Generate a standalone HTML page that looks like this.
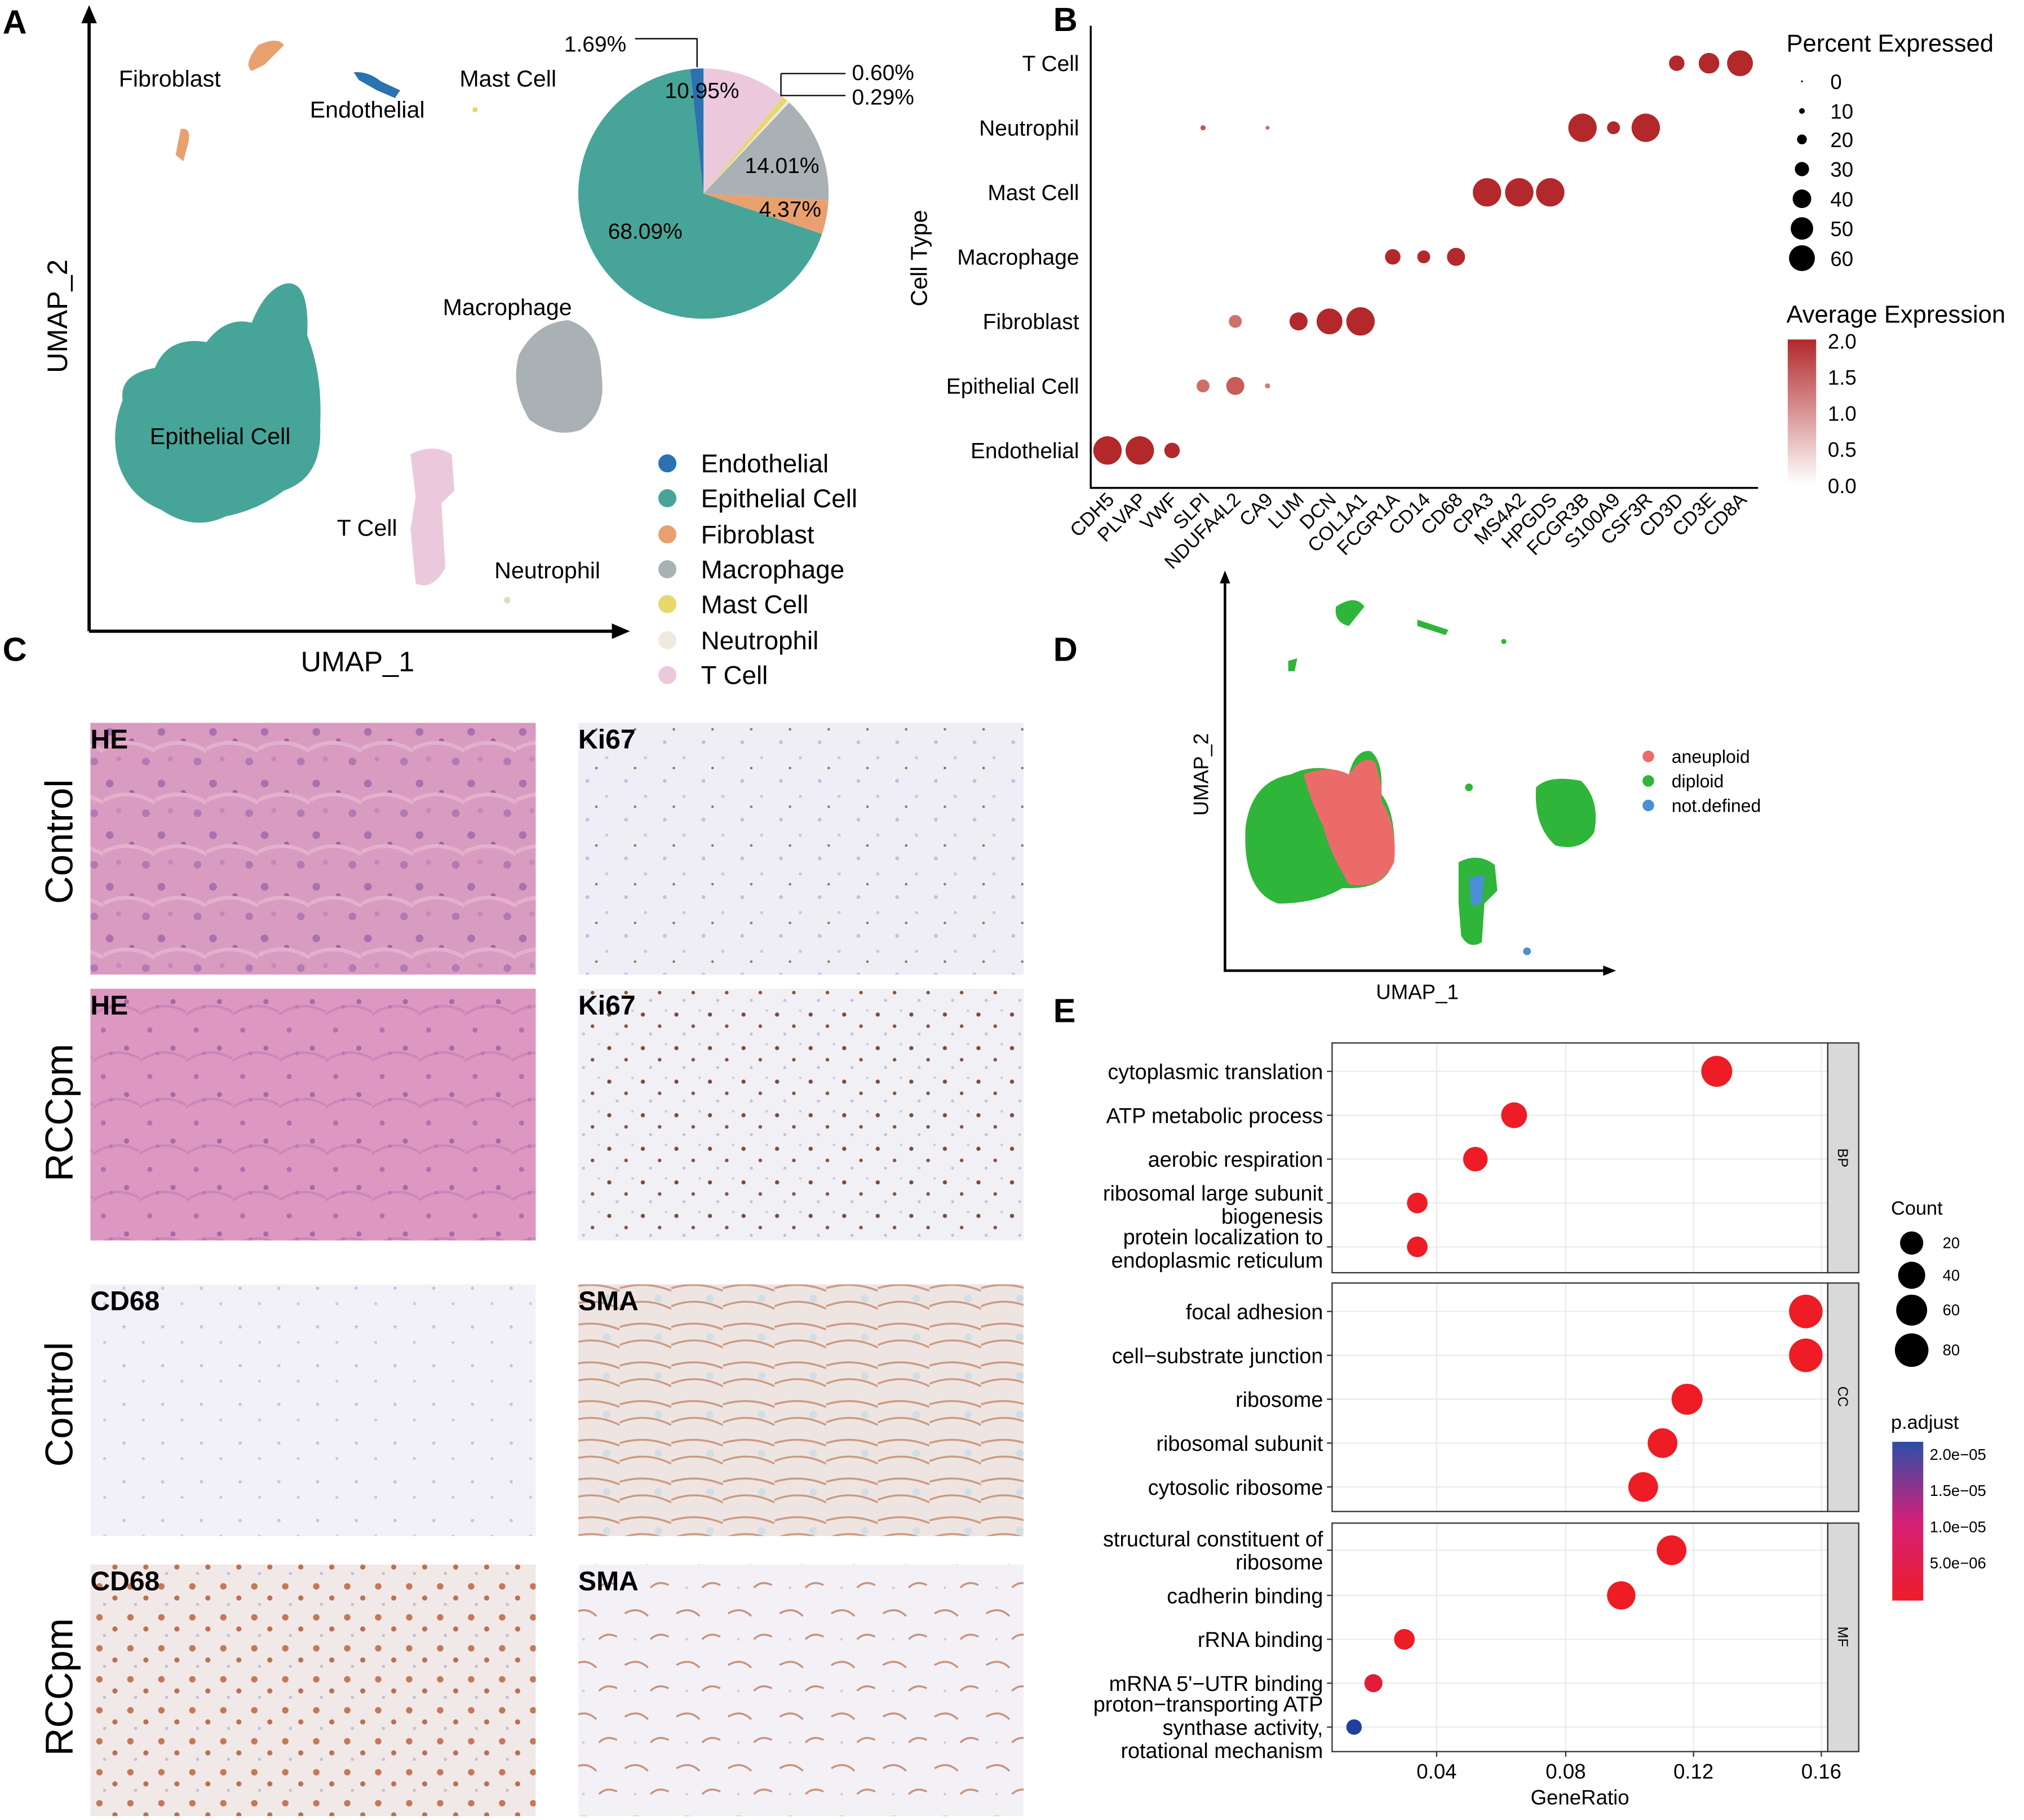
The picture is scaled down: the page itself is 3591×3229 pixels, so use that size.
<!DOCTYPE html>
<html><head><meta charset="utf-8"><style>html,body{margin:0;padding:0;background:#fff}svg{display:block}text{font-family:"Liberation Sans",Arial,sans-serif}</style></head><body>
<svg width="3591" height="3229" viewBox="0 0 1568 1410" xmlns="http://www.w3.org/2000/svg">
<defs>
<pattern id="he" width="40" height="40" patternUnits="userSpaceOnUse"><rect width="40" height="40" fill="#d99bc0"/><circle cx="5" cy="7" r="3" fill="#a872b0"/><circle cx="22" cy="14" r="2" fill="#9a66a6"/><circle cx="33" cy="30" r="3" fill="#b07ab4"/><circle cx="12" cy="28" r="2" fill="#c08abd"/><path d="M0 20 Q20 10 40 22" stroke="#e4b0cc" stroke-width="3" fill="none"/></pattern>
<pattern id="he2" width="36" height="36" patternUnits="userSpaceOnUse"><rect width="36" height="36" fill="#dd98c2"/><circle cx="8" cy="6" r="2" fill="#b072ae"/><circle cx="26" cy="20" r="2" fill="#a66aa6"/><path d="M0 30 Q18 18 36 28" stroke="#cc88b8" stroke-width="2" fill="none"/><circle cx="14" cy="24" r="1.5" fill="#b87ab4"/></pattern>
<pattern id="ki" width="30" height="30" patternUnits="userSpaceOnUse"><rect width="30" height="30" fill="#efeef5"/><circle cx="5" cy="5" r="1.5" fill="#c4c1df"/><circle cx="20" cy="17" r="1.3" fill="#ccc9e3"/><circle cx="12" cy="25" r="1" fill="#9a7058"/></pattern>
<pattern id="ki2" width="26" height="26" patternUnits="userSpaceOnUse"><rect width="26" height="26" fill="#f1f0f5"/><circle cx="4" cy="6" r="1.6" fill="#7a4c36"/><circle cx="17" cy="15" r="1.4" fill="#85553c"/><circle cx="10" cy="21" r="1.2" fill="#c4c0dd"/><circle cx="22" cy="3" r="1" fill="#ccc8e2"/></pattern>
<pattern id="cd" width="30" height="30" patternUnits="userSpaceOnUse"><rect width="30" height="30" fill="#f2f1f7"/><circle cx="6" cy="8" r="1.3" fill="#c6c4df"/><circle cx="21" cy="20" r="1.2" fill="#ccc9e2"/></pattern>
<pattern id="cd2" width="24" height="24" patternUnits="userSpaceOnUse"><rect width="24" height="24" fill="#f1e9e8"/><circle cx="5" cy="5" r="2.5" fill="#c47858"/><circle cx="17" cy="14" r="2" fill="#bc7050"/><circle cx="9" cy="19" r="1.3" fill="#c4c0dc"/></pattern>
<pattern id="sma" width="40" height="30" patternUnits="userSpaceOnUse"><rect width="40" height="30" fill="#eee5e2"/><path d="M0 8 Q20 2 40 10 M0 22 Q20 14 40 24" stroke="#cc9a80" stroke-width="1.5" fill="none"/><circle cx="30" cy="16" r="3" fill="#d2dee6"/></pattern>
<pattern id="sma2" width="40" height="40" patternUnits="userSpaceOnUse"><rect width="40" height="40" fill="#f3f1f6"/><path d="M4 10 Q14 4 22 12 M24 30 Q30 24 38 28" stroke="#c8927a" stroke-width="1.5" fill="none"/><circle cx="12" cy="30" r="1" fill="#ccc9e2"/></pattern>
<linearGradient id="ae" x1="0" y1="1" x2="0" y2="0"><stop offset="0" stop-color="#fff"/><stop offset="1" stop-color="#b2282b"/></linearGradient>
<linearGradient id="pa" x1="0" y1="0" x2="0" y2="1"><stop offset="0" stop-color="#2c4ea8"/><stop offset="0.5" stop-color="#d42078"/><stop offset="1" stop-color="#ee1c2a"/></linearGradient>
</defs>
<g font-weight="bold" font-size="26"><text x="2" y="26">A</text><text x="816" y="24">B</text><text x="2" y="512">C</text><text x="816" y="512">D</text><text x="816" y="792">E</text></g>

<g stroke="#000" stroke-width="2.5" fill="none"><path d="M69 489V12M69 489H480"/></g>
<path d="M69 4l-6 14h12z M488 489l-14-6v12z" fill="#000"/>
<text x="57" y="250" font-size="22" transform="rotate(-90 52 250)" text-anchor="middle">UMAP_2</text>
<text x="277" y="520" font-size="22" text-anchor="middle">UMAP_1</text>
<path d="M95 310 Q92 290 120 285 Q130 260 160 265 Q175 245 195 250 Q205 225 220 220 Q240 215 238 260 Q250 290 248 330 Q250 370 220 380 Q200 395 175 400 Q150 412 125 395 Q100 385 92 360 Q85 335 95 310Z" fill="#46a598"/>
<path d="M402 275 Q415 250 440 248 Q465 255 466 290 Q470 320 450 333 Q430 340 410 325 Q395 300 402 275Z" fill="#a9b1b4"/>
<path d="M318 352 Q335 343 350 352 L352 380 L342 390 L345 440 Q335 458 322 452 L318 410 L322 385Z" fill="#ecc8dd"/>
<path d="M140 100 Q148 98 146 110 L142 125 L136 120Z M200 35 Q215 28 220 35 L205 50 L195 55 Q188 50 200 35Z" fill="#e9a06f"/>
<path d="M274 56 Q285 55 295 63 L310 70 L306 76 L292 70 L278 62Z" fill="#2a72b0"/>
<circle cx="368" cy="85" r="2" fill="#e6d86b"/><circle cx="393" cy="465" r="2.5" fill="#ddd8c8"/>
<g font-size="18"><text x="92" y="67">Fibroblast</text><text x="240" y="91">Endothelial</text><text x="356" y="67">Mast Cell</text><text x="343" y="244">Macrophage</text><text x="116" y="344">Epithelial Cell</text><text x="261" y="415">T Cell</text><text x="383" y="448">Neutrophil</text></g>
<g transform="translate(545,150)">
<path d="M0 0L0 -97A97 97 0 0 1 61.6 -74.9Z" fill="#ecc8dd"/>
<path d="M0 0L61.6 -74.9A97 97 0 0 1 65 -72Z" fill="#e6d86b"/>
<path d="M0 0L65 -72A97 97 0 0 1 66.5 -70.6Z" fill="#eeeade"/>
<path d="M0 0L66.5 -70.6A97 97 0 0 1 96.8 5.2Z" fill="#a9b1b4"/>
<path d="M0 0L96.8 5.2A97 97 0 0 1 91.8 31.3Z" fill="#e9a06f"/>
<path d="M0 0L91.8 31.3A97 97 0 1 1 -10.3 -96.5Z" fill="#46a598"/>
<path d="M0 0L-10.3 -96.5A97 97 0 0 1 0 -97Z" fill="#2a72b0"/>
</g>
<g font-size="17"><text x="437" y="40">1.69%</text><text x="515" y="76">10.95%</text><text x="577" y="134">14.01%</text><text x="588" y="168">4.37%</text><text x="471" y="185">68.09%</text><text x="660" y="62">0.60%</text><text x="660" y="81">0.29%</text></g>
<g stroke="#000" stroke-width="1" fill="none"><path d="M540 52V30H492M605 57V74H655M605 57H655"/></g>
<g font-size="20">
<circle cx="517" cy="359" r="7" fill="#2a72b0"/><text x="543" y="366">Endothelial</text>
<circle cx="517" cy="386" r="7" fill="#46a598"/><text x="543" y="393">Epithelial Cell</text>
<circle cx="517" cy="414" r="7" fill="#e9a06f"/><text x="543" y="421">Fibroblast</text>
<circle cx="517" cy="441" r="7" fill="#a9b1b4"/><text x="543" y="448">Macrophage</text>
<circle cx="517" cy="468" r="7" fill="#e6d86b"/><text x="543" y="475">Mast Cell</text>
<circle cx="517" cy="496" r="7" fill="#eeeade"/><text x="543" y="503">Neutrophil</text>
<circle cx="517" cy="523" r="7" fill="#ecc8dd"/><text x="543" y="530">T Cell</text>
</g>

<path d="M845 20V378H1362" stroke="#000" stroke-width="1.5" fill="none"/>
<g font-size="17" text-anchor="end">
<text x="836" y="55">T Cell</text><text x="836" y="105">Neutrophil</text><text x="836" y="155">Mast Cell</text><text x="836" y="205">Macrophage</text><text x="836" y="255">Fibroblast</text><text x="836" y="305">Epithelial Cell</text><text x="836" y="355">Endothelial</text>
</g>
<text x="718" y="200" font-size="18" text-anchor="middle" transform="rotate(-90 718 200)">Cell Type</text>
<g font-size="15" text-anchor="end">
<text transform="translate(864,388) rotate(-45)">CDH5</text><text transform="translate(889,388) rotate(-45)">PLVAP</text><text transform="translate(913,388) rotate(-45)">VWF</text><text transform="translate(938,388) rotate(-45)">SLPI</text><text transform="translate(962,388) rotate(-45)">NDUFA4L2</text><text transform="translate(987,388) rotate(-45)">CA9</text><text transform="translate(1011,388) rotate(-45)">LUM</text><text transform="translate(1036,388) rotate(-45)">DCN</text><text transform="translate(1060,388) rotate(-45)">COL1A1</text><text transform="translate(1085,388) rotate(-45)">FCGR1A</text><text transform="translate(1109,388) rotate(-45)">CD14</text><text transform="translate(1134,388) rotate(-45)">CD68</text><text transform="translate(1158,388) rotate(-45)">CPA3</text><text transform="translate(1183,388) rotate(-45)">MS4A2</text><text transform="translate(1207,388) rotate(-45)">HPGDS</text><text transform="translate(1232,388) rotate(-45)">FCGR3B</text><text transform="translate(1256,388) rotate(-45)">S100A9</text><text transform="translate(1281,388) rotate(-45)">CSF3R</text><text transform="translate(1305,388) rotate(-45)">CD3D</text><text transform="translate(1330,388) rotate(-45)">CD3E</text><text transform="translate(1354,388) rotate(-45)">CD8A</text>
</g>
<g fill="#b2282b">
<circle cx="1299" cy="49" r="6"/><circle cx="1324" cy="49" r="8"/><circle cx="1348" cy="49" r="10"/>
<circle cx="932" cy="99" r="2" fill="#c9504f"/><circle cx="982" cy="99" r="1.5" fill="#d06a66"/><circle cx="1226" cy="99" r="11"/><circle cx="1250" cy="99" r="5"/><circle cx="1275" cy="99" r="11"/>
<circle cx="1152" cy="149" r="11"/><circle cx="1177" cy="149" r="11"/><circle cx="1201" cy="149" r="11"/>
<circle cx="1079" cy="199" r="6"/><circle cx="1103" cy="199" r="5"/><circle cx="1128" cy="199" r="7"/>
<circle cx="957" cy="249" r="5" fill="#d0706c"/><circle cx="1006" cy="249" r="7"/><circle cx="1030" cy="249" r="10"/><circle cx="1054" cy="249" r="11"/>
<circle cx="932" cy="299" r="5" fill="#cf6d69"/><circle cx="957" cy="299" r="7" fill="#c85c58"/><circle cx="982" cy="299" r="2" fill="#d47a75"/>
<circle cx="858" cy="349" r="11"/><circle cx="883" cy="349" r="11"/><circle cx="908" cy="349" r="6"/>
</g>
<text x="1384" y="40" font-size="19">Percent Expressed</text>
<g fill="#000"><circle cx="1396" cy="63" r="0.7"/><circle cx="1396" cy="86" r="2.2"/><circle cx="1396" cy="108" r="3.8"/><circle cx="1396" cy="131" r="5.5"/><circle cx="1396" cy="154" r="7.2"/><circle cx="1396" cy="177" r="8.7"/><circle cx="1396" cy="200" r="10"/></g>
<g font-size="16"><text x="1418" y="69">0</text><text x="1418" y="92">10</text><text x="1418" y="114">20</text><text x="1418" y="137">30</text><text x="1418" y="160">40</text><text x="1418" y="183">50</text><text x="1418" y="206">60</text></g>
<text x="1384" y="250" font-size="19">Average Expression</text>
<rect x="1385" y="263" width="22" height="112" fill="url(#ae)"/>
<g font-size="16"><text x="1416" y="270">2.0</text><text x="1416" y="298">1.5</text><text x="1416" y="326">1.0</text><text x="1416" y="354">0.5</text><text x="1416" y="382">0.0</text></g>

<rect x="70" y="560" width="345" height="195" fill="url(#he)"/>
<rect x="448" y="560" width="345" height="195" fill="url(#ki)"/>
<rect x="70" y="766" width="345" height="195" fill="url(#he2)"/>
<rect x="448" y="766" width="345" height="195" fill="url(#ki2)"/>
<rect x="70" y="995" width="345" height="195" fill="url(#cd)"/>
<rect x="448" y="995" width="345" height="195" fill="url(#sma)"/>
<rect x="70" y="1212" width="345" height="195" fill="url(#cd2)"/>
<rect x="448" y="1212" width="345" height="195" fill="url(#sma2)"/>
<g font-size="21" font-weight="bold"><text x="70" y="580">HE</text><text x="448" y="580">Ki67</text><text x="70" y="786">HE</text><text x="448" y="786">Ki67</text><text x="70" y="1015">CD68</text><text x="448" y="1015">SMA</text><text x="70" y="1232">CD68</text><text x="448" y="1232">SMA</text></g>
<g font-size="30" text-anchor="middle"><text transform="translate(56,652) rotate(-90)">Control</text><text transform="translate(56,862) rotate(-90)">RCCpm</text><text transform="translate(56,1088) rotate(-90)">Control</text><text transform="translate(56,1307) rotate(-90)">RCCpm</text></g>

<path d="M949 448V752H1245" stroke="#000" stroke-width="2" fill="none"/>
<path d="M949 442l-4 10h8z M1252 752l-10-4v8z" fill="#000"/>
<text x="936" y="600" font-size="16" text-anchor="middle" transform="rotate(-90 936 600)">UMAP_2</text>
<text x="1098" y="774" font-size="16" text-anchor="middle">UMAP_1</text>
<path d="M965 640 Q970 605 1000 600 Q1020 590 1045 600 Q1050 580 1062 582 Q1072 590 1070 615 Q1082 630 1080 665 Q1075 690 1040 688 Q1020 700 990 700 Q962 690 965 640Z" fill="#2fb53a"/>
<path d="M1010 600 Q1030 592 1045 600 Q1055 585 1065 590 Q1072 610 1070 620 Q1083 640 1080 668 Q1070 690 1045 685 Q1030 660 1025 640 Q1015 620 1010 600Z" fill="#eb6b6b"/>
<path d="M1190 610 Q1200 600 1225 605 Q1240 620 1235 645 Q1225 660 1205 655 Q1188 640 1190 610Z" fill="#2fb53a"/>
<path d="M1130 668 Q1145 660 1158 670 L1160 690 L1150 700 L1148 730 Q1138 736 1132 725 L1130 700Z" fill="#2fb53a"/>
<path d="M1138 680 L1150 678 L1148 700 L1140 702Z" fill="#4a8fd8"/>
<path d="M1035 470 Q1050 460 1057 470 L1045 485 Q1033 482 1035 470Z M1098 480 L1122 488 L1120 492 L1098 485Z M998 512 L1005 510 L1003 520 L998 520Z" fill="#2fb53a"/>
<circle cx="1165" cy="497" r="2" fill="#2fb53a"/><circle cx="1138" cy="610" r="3" fill="#2fb53a"/><circle cx="1183" cy="737" r="3" fill="#4a8fd8"/>
<g font-size="14"><circle cx="1277" cy="586" r="4.5" fill="#eb6b6b"/><text x="1295" y="591">aneuploid</text><circle cx="1277" cy="605" r="4.5" fill="#2fb53a"/><text x="1295" y="610">diploid</text><circle cx="1277" cy="624" r="4.5" fill="#4a8fd8"/><text x="1295" y="629">not.defined</text></g>

<g stroke="#ebebeb" stroke-width="1">
<path d="M1113 808V986M1213 808V986M1312 808V986M1411 808V986M1113 994V1171M1213 994V1171M1312 994V1171M1411 994V1171M1113 1180V1357M1213 1180V1357M1312 1180V1357M1411 1180V1357"/>
<path d="M1032 830H1416M1032 864H1416M1032 898H1416M1032 932H1416M1032 966H1416M1032 1016H1416M1032 1050H1416M1032 1084H1416M1032 1118H1416M1032 1152H1416M1032 1201H1416M1032 1236H1416M1032 1270H1416M1032 1304H1416M1032 1338H1416"/>
</g>
<g fill="none" stroke="#333" stroke-width="1"><rect x="1032" y="808" width="384" height="178"/><rect x="1032" y="994" width="384" height="177"/><rect x="1032" y="1180" width="384" height="177"/></g>
<g fill="#d9d9d9" stroke="#333" stroke-width="1"><rect x="1416" y="808" width="24" height="178"/><rect x="1416" y="994" width="24" height="177"/><rect x="1416" y="1180" width="24" height="177"/></g>
<g font-size="11" text-anchor="middle"><text transform="translate(1424,897) rotate(90)">BP</text><text transform="translate(1424,1082) rotate(90)">CC</text><text transform="translate(1424,1268) rotate(90)">MF</text></g>
<g font-size="16.5" text-anchor="end">
<text x="1025" y="836">cytoplasmic translation</text><text x="1025" y="870">ATP metabolic process</text><text x="1025" y="904">aerobic respiration</text><text x="1025" y="930">ribosomal large subunit</text><text x="1025" y="948">biogenesis</text><text x="1025" y="964">protein localization to</text><text x="1025" y="982">endoplasmic reticulum</text>
<text x="1025" y="1022">focal adhesion</text><text x="1025" y="1056">cell−substrate junction</text><text x="1025" y="1090">ribosome</text><text x="1025" y="1124">ribosomal subunit</text><text x="1025" y="1158">cytosolic ribosome</text>
<text x="1025" y="1198">structural constituent of</text><text x="1025" y="1216">ribosome</text><text x="1025" y="1242">cadherin binding</text><text x="1025" y="1276">rRNA binding</text><text x="1025" y="1310">mRNA 5'−UTR binding</text><text x="1025" y="1326">proton−transporting ATP</text><text x="1025" y="1344">synthase activity,</text><text x="1025" y="1362">rotational mechanism</text>
</g>
<g stroke="#333" stroke-width="1"><path d="M1028 830h4M1028 864h4M1028 898h4M1028 932h4M1028 966h4M1028 1016h4M1028 1050h4M1028 1084h4M1028 1118h4M1028 1152h4M1028 1201h4M1028 1236h4M1028 1270h4M1028 1304h4M1028 1338h4M1113 1357v4M1213 1357v4M1312 1357v4M1411 1357v4"/></g>
<g fill="#ee1c24">
<circle cx="1330" cy="830" r="12"/><circle cx="1173" cy="864" r="10"/><circle cx="1143" cy="898" r="9.5"/><circle cx="1098" cy="932" r="8"/><circle cx="1098" cy="966" r="8"/>
<circle cx="1399" cy="1016" r="13"/><circle cx="1399" cy="1050" r="13"/><circle cx="1307" cy="1084" r="12"/><circle cx="1288" cy="1118" r="11.5"/><circle cx="1273" cy="1152" r="11.5"/>
<circle cx="1295" cy="1201" r="11.5"/><circle cx="1256" cy="1236" r="11"/><circle cx="1088" cy="1270" r="8"/><circle cx="1064" cy="1304" r="7" fill="#e31b3a"/><circle cx="1049" cy="1338" r="6" fill="#2040a0"/>
</g>
<g font-size="16" text-anchor="middle"><text x="1113" y="1378">0.04</text><text x="1213" y="1378">0.08</text><text x="1312" y="1378">0.12</text><text x="1411" y="1378">0.16</text><text x="1224" y="1398">GeneRatio</text></g>
<text x="1465" y="941" font-size="15">Count</text>
<g fill="#000"><circle cx="1481" cy="963" r="9"/><circle cx="1481" cy="988" r="10.5"/><circle cx="1481" cy="1015" r="12"/><circle cx="1481" cy="1046" r="13"/></g>
<g font-size="12"><text x="1505" y="967">20</text><text x="1505" y="992">40</text><text x="1505" y="1019">60</text><text x="1505" y="1050">80</text></g>
<text x="1465" y="1107" font-size="15">p.adjust</text>
<rect x="1466" y="1117" width="24" height="123" fill="url(#pa)"/>
<g font-size="12"><text x="1495" y="1131">2.0e−05</text><text x="1495" y="1159">1.5e−05</text><text x="1495" y="1187">1.0e−05</text><text x="1495" y="1215">5.0e−06</text></g>
</svg>
</body></html>
